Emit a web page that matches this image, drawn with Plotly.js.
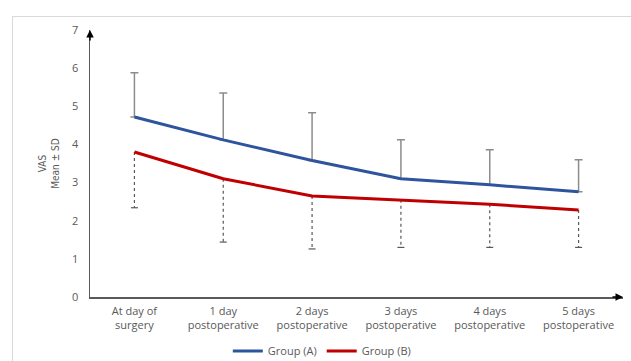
<!DOCTYPE html>
<html><head><meta charset="utf-8">
<script src="https://cdn.plot.ly/plotly-3.0.1.min.js"></script>
<style>
body{margin:0;padding:0;background:#fff;}
#frame{position:absolute;left:12px;top:16px;width:640px;height:360px;border:1px solid #d9d9d9;}
#chart{position:absolute;left:0;top:0;width:631px;height:361px;}
</style></head>
<body>
<div id="frame"></div>
<div id="chart"></div>
<script>
const categories = ["At day of<br>surgery","1 day<br>postoperative","2 days<br>postoperative","3 days<br>postoperative","4 days<br>postoperative","5 days<br>postoperative"];
const groupA = [4.72, 4.12, 3.58, 3.10, 2.94, 2.76];
const sdA = [1.16, 1.23, 1.25, 1.02, 0.92, 0.84];
const groupB = [3.80, 3.10, 2.65, 2.55, 2.43, 2.28];
const sdB = [1.46, 1.66, 1.39, 1.25, 1.13, 0.98];
const yTicks = [0,1,2,3,4,5,6,7];

const xs = categories.map((c,i)=>i);
const traces = [];
xs.forEach((x,i)=>{
  traces.push({x:[x,x], y:[groupB[i], groupB[i]-sdB[i]], mode:'lines', type:'scatter',
    line:{color:'#595959', width:1.2, dash:'dot'}, showlegend:false, hoverinfo:'skip'});
});
traces.push({x:xs, y:groupB.map((v,i)=>v-sdB[i]), mode:'markers', type:'scatter', showlegend:false,
  marker:{symbol:'line-ew', size:5, line:{color:'#595959', width:1.2}}, hoverinfo:'skip'});
traces.push({x:xs, y:groupA, type:'scatter', mode:'lines', name:'Group (A)',
  line:{color:'#2E549E', width:3},
  error_y:{type:'data', array:sdA, arrayminus:sdA.map(()=>0), symmetric:false, color:'#8c8c8c', thickness:1.5, width:4}});
traces.push({x:xs, y:groupB, type:'scatter', mode:'lines', name:'Group (B)',
  line:{color:'#C00000', width:3}});

const layout = {
  width:631, height:361,
  margin:{l:90, r:8, t:30, b:64},
  paper_bgcolor:'rgba(0,0,0,0)', plot_bgcolor:'rgba(0,0,0,0)',
  font:{family:'Open Sans, sans-serif', size:11, color:'#595959'},
  showlegend:true,
  legend:{orientation:'h', xref:'container', yref:'container', x:0.51, xanchor:'center', y:10/361, yanchor:'middle',
    font:{size:11, color:'#595959'}, itemwidth:30, tracegroupgap:0},
  xaxis:{range:[-0.5,5.5], tickmode:'array', tickvals:xs, ticktext:categories, showgrid:false, zeroline:false,
    showline:true, linecolor:'#595959', linewidth:1.5, ticks:'', ticklabelstandoff:3, tickfont:{size:11, color:'#595959'}, automargin:false},
  yaxis:{range:[0,7], tickmode:'array', tickvals:yTicks, ticktext:yTicks.map(String), showgrid:false, zeroline:false,
    showline:true, linecolor:'#595959', linewidth:1.5, ticks:'', ticklabelstandoff:8, tickfont:{size:11, color:'#595959'},
    automargin:false,
    title:{text:'VAS<br>Mean ± SD', font:{size:10, color:'#595959', family:'DejaVu Sans Condensed, Open Sans, sans-serif'}, standoff:10}},
  annotations:[
    {xref:'paper', yref:'paper', x:0, y:1.0, ax:0, ay:12, showarrow:true, arrowhead:2, arrowsize:1, arrowwidth:1.5, arrowcolor:'#000', text:''},
    {xref:'paper', yref:'paper', x:1.0, y:0, ax:-12, ay:0, showarrow:true, arrowhead:2, arrowsize:1, arrowwidth:1.5, arrowcolor:'#000', text:''}
  ]
};
Plotly.newPlot('chart', traces, layout, {displayModeBar:false, staticPlot:true});
</script>
</body></html>
